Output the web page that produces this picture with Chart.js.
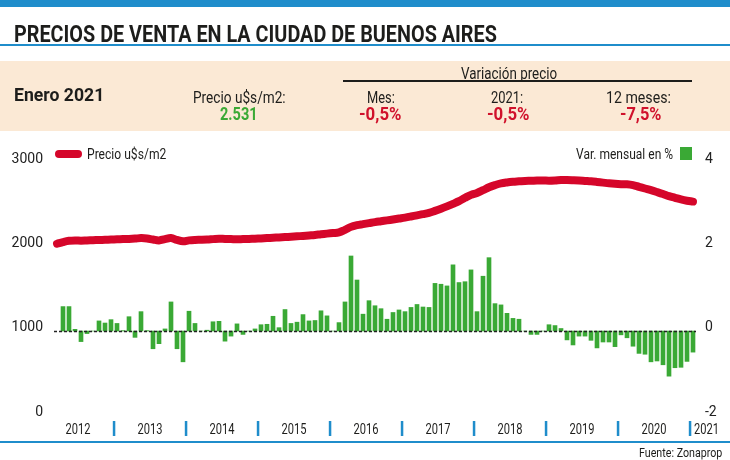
<!DOCTYPE html>
<html>
<head>
<meta charset="utf-8">
<script src="https://cdn.jsdelivr.net/npm/chart.js@4.4.1/dist/chart.umd.min.js"></script>
<style>
  body { margin: 0; width: 730px; height: 460px; overflow: hidden; background: #fff; position: relative;
         font-family: Roboto, sans-serif; color: #1d1d1b; }
  .box { position: absolute; }
  .t { position: absolute; white-space: nowrap; line-height: 1; transform-origin: left center; transform: translateY(-50%); }
  .b { font-weight: 700; }
  .red { color: #d0112b; }
  .green { color: #3aa935; }
  canvas { position: absolute; left: 0; top: 0; }
</style>
</head>
<body>
<canvas id="chart" width="730" height="460"></canvas>

<!-- cabecera -->
<div class="box" style="left:0;top:0;width:730px;height:7px;background:#1f8dcb"></div>
<div class="t b" data-w="483" style="left:14px;top:34px;font-size:24px">PRECIOS DE VENTA EN LA CIUDAD DE BUENOS AIRES</div>
<div class="box" style="left:0;top:44px;width:730px;height:2px;background:#1f8dcb"></div>
<div class="box" style="left:0;top:61px;width:730px;height:70px;background:#fbe9d5"></div>
<div class="t b" data-w="90" style="left:14px;top:94px;font-size:19px">Enero 2021</div>
<div class="t" data-w="93" style="left:193px;top:97px;font-size:17px">Precio u$s/m2:</div>
<div class="t b green" data-w="38" style="left:220px;top:114px;font-size:18px">2.531</div>
<div class="t" data-w="96" style="left:461px;top:73px;font-size:17px">Variación precio</div>
<div class="box" style="left:343px;top:80px;width:349px;height:2px;background:#1d1d1b"></div>
<div class="t" data-w="28" style="left:367px;top:97px;font-size:17px">Mes:</div>
<div class="t b red" data-w="42" style="left:359px;top:114px;font-size:18px">-0,5%</div>
<div class="t" data-w="32" style="left:491px;top:97px;font-size:17px">2021:</div>
<div class="t b red" data-w="42" style="left:487px;top:114px;font-size:18px">-0,5%</div>
<div class="t" data-w="65" style="left:606px;top:97px;font-size:17px">12 meses:</div>
<div class="t b red" data-w="41" style="left:620px;top:114px;font-size:18px">-7,5%</div>

<!-- leyendas -->
<div class="box" style="left:55px;top:150px;width:27px;height:8px;border-radius:4px;background:#d5062a"></div>
<div class="t" data-w="79" style="left:87px;top:154px;font-size:15px">Precio u$s/m2</div>
<div class="t" data-w="97" style="left:576px;top:154px;font-size:15px">Var. mensual en %</div>
<div class="box" style="left:680px;top:147px;width:12px;height:13px;background:#3aa935"></div>

<!-- pie -->
<div class="box" style="left:0;top:441px;width:730px;height:2px;background:#1f8dcb"></div>
<div class="t" data-w="83" style="left:639px;top:452px;font-size:13px">Fuente: Zonaprop</div>

<script>
// meses: mar-2012 .. ene-2021
const monthNames = ['ene', 'feb', 'mar', 'abr', 'may', 'jun', 'jul', 'ago', 'sep', 'oct', 'nov', 'dic'];
const years = ['2012', '2013', '2014', '2015', '2016', '2017', '2018', '2019', '2020', '2021'];
const months = [];
for (let i = 2; i < 109; i++) months.push(monthNames[i % 12] + '-' + years[Math.floor(i / 12)]);

// precio u$s/m2
const precio = [
  1995, 2015, 2030, 2035, 2032, 2035, 2038, 2040, 2042, 2045,
  2047, 2050, 2052, 2056, 2062, 2058, 2045, 2035, 2050, 2062, 2040, 2025,
  2035, 2040, 2042, 2045, 2050, 2055, 2052, 2050, 2048, 2050, 2052, 2055,
  2058, 2062, 2066, 2070, 2074, 2078, 2083, 2088, 2094, 2100, 2108, 2115,
  2122, 2130, 2160, 2195, 2215, 2228, 2240, 2252, 2262, 2272, 2283, 2294,
  2305, 2318, 2332, 2346, 2362, 2385, 2410, 2438, 2468, 2500, 2540, 2575,
  2598, 2630, 2665, 2690, 2710, 2722, 2730, 2735, 2740, 2742, 2745, 2745,
  2743, 2745, 2750, 2750, 2748, 2745, 2740, 2735, 2728, 2720, 2712, 2706,
  2702, 2700, 2690, 2670, 2650, 2630, 2608, 2585, 2560, 2540, 2520, 2505,
  2495
];

// variacion mensual en %
const variacion = [
  null, 0.58, 0.58, 0.04, -0.25, -0.06, 0, 0.24, 0.19, 0.27,
  0.18, 0.01, 0.34, -0.15, 0.46, 0.01, -0.42, -0.3, 0.05, 0.69, -0.42, -0.73,
  0.47, 0.18, 0, 0.02, 0.22, 0.23, -0.24, -0.12, 0.17, -0.08, 0, 0.05,
  0.15, 0.16, 0.35, 0.08, 0.51, 0.18, 0.21, 0.39, 0.24, 0.25, 0.48, 0.36,
  0, 0.2, 0.69, 1.78, 1.21, 0.4, 0.72, 0.6, 0.53, 0.28, 0.44, 0.5,
  0.46, 0.56, 0.63, 0.57, 0.56, 1.13, 1.11, 1.07, 1.57, 1.15, 1.17, 1.45,
  0.46, 1.3, 1.74, 0.65, 0.62, 0.42, 0.3, 0.28, 0, -0.08, -0.08, 0,
  0.15, 0.13, 0.06, -0.21, -0.33, -0.12, -0.12, -0.22, -0.4, -0.26, -0.26, -0.37,
  -0.09, -0.16, -0.36, -0.53, -0.55, -0.73, -0.71, -0.8, -1.07, -0.87, -0.86, -0.72,
  -0.5
];

const leftTicks = [0, 1000, 2000, 3000];
const rightTicks = [-2, 0, 2, 4];

// textos condensados: ajusto el ancho de cada uno
document.querySelectorAll('.t').forEach(el => {
  const s = el.dataset.w / el.offsetWidth;
  el.style.transform = `translateY(-50%) scaleX(${s})`;
});

// linea de cero punteada, separadores y rotulos de años
const decor = {
  id: 'decor',
  afterDatasetsDraw(c) {
    const { ctx, chartArea: a, scales } = c;
    const y0 = Math.round(scales.yBar.getPixelForValue(0)) + 0.5;
    ctx.save();
    ctx.strokeStyle = '#222';
    ctx.lineWidth = 1.5;
    ctx.setLineDash([3, 2]);
    ctx.beginPath();
    ctx.moveTo(a.left, y0);
    ctx.lineTo(a.right, y0);
    ctx.stroke();
    ctx.restore();
  },
  afterDraw(c) {
    const { ctx, scales: { x } } = c;
    const edge = i => (x.getPixelForValue(i) + x.getPixelForValue(i - 1)) / 2;
    ctx.save();
    ctx.font = '15px Roboto';
    ctx.fillStyle = '#1d1d1b';
    ctx.textBaseline = 'middle';
    years.forEach((yr, n) => {
      const start = edge(12 * n - 2);
      if (n > 0) {
        ctx.fillStyle = '#1f8dcb';
        ctx.fillRect(start - 1.2, 421, 2.5, 15);
        ctx.fillStyle = '#1d1d1b';
      }
      const last = n === years.length - 1;
      const w = ctx.measureText(yr).width * 0.74;
      const cx = last ? start + 4 + w / 2 : (start + edge(12 * n + 10)) / 2;
      ctx.save();
      ctx.translate(cx, 430);
      ctx.scale(0.74, 1);
      ctx.textAlign = 'center';
      ctx.fillText(yr, 0, 0);
      ctx.restore();
    });
    ctx.restore();
  }
};

const tickFont = { family: 'Roboto', size: 14 };

new Chart(document.getElementById('chart'), {
  data: {
    labels: months,
    datasets: [{
      type: 'line',
      label: 'Precio u$s/m2',
      data: precio,
      yAxisID: 'y',
      borderColor: '#d5062a',
      borderWidth: 8,
      borderCapStyle: 'round',
      borderJoinStyle: 'round',
      pointRadius: 0,
      tension: 0.4
    }, {
      type: 'bar',
      label: 'Var. mensual en %',
      data: variacion,
      yAxisID: 'yBar',
      backgroundColor: '#3aa935',
      barThickness: 4
    }]
  },
  options: {
    responsive: false,
    animation: false,
    devicePixelRatio: 1,
    layout: { padding: { top: 159, bottom: 48, left: 0, right: 0 } },
    plugins: { legend: { display: false }, tooltip: { enabled: false } },
    scales: {
      x: { type: 'category', display: false, offset: true },
      y: {
        position: 'left', min: 0, max: 3000,
        grid: { display: false, drawTicks: false },
        border: { display: false },
        ticks: { padding: 11, font: tickFont, color: '#222', callback: v => String(v) },
        afterBuildTicks: s => { s.ticks = leftTicks.map(v => ({ value: v })); },
        afterFit: s => { s.width = 54; }
      },
      y1: {
        position: 'right', min: -2, max: 4,
        grid: { display: false, drawTicks: false },
        border: { display: false },
        ticks: { padding: 9, font: tickFont, color: '#222', callback: v => String(v) },
        afterBuildTicks: s => { s.ticks = rightTicks.map(v => ({ value: v })); },
        afterFit: s => { s.width = 34; }
      },
      // eje de las barras (el cero del gráfico original queda 3px bajo el rótulo)
      yBar: { display: false, min: -1.92, max: 4.08 }
    }
  },
  plugins: [decor]
});
</script>
</body>
</html>
